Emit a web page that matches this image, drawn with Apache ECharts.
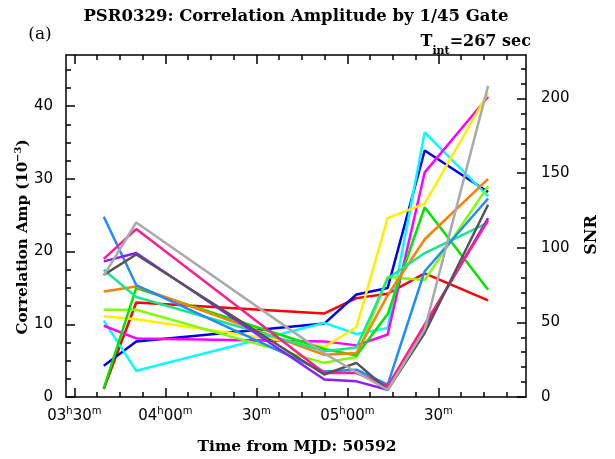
<!DOCTYPE html>
<html><head><meta charset="utf-8">
<script src="https://cdn.jsdelivr.net/npm/echarts@6/dist/echarts.min.js"></script>
<style>html,body{margin:0;padding:0;background:#fff}#c{width:615px;height:459px}</style>
</head><body><div id="c"></div>
<script>
// time in minutes after 03h00m (MJD 50592)
const times = [39.7, 50.4, 112.4, 123.0, 133.3, 145.5, 166.4];
// correlation amplitude (10^-3) per gate
const dodgerBlue  = [24.8, 15.4, 3.5, 3.75, 1.7, 17.3, 27.3];
const deepPink    = [19.0, 23.1, 3.3, 3.3, 1.5, 10.0, 24.3];
const purple      = [18.65, 19.8, 2.4, 2.15, 1.0, 9.7, 24.6];
const darkGray    = [16.8, 19.6, 3.1, 4.7, 1.0, 8.8, 26.45];
const lightGray   = [16.7, 24.0, 6.0, 3.4, 1.0, 9.3, 42.8];
const springGreen = [17.5, 13.75, 6.3, 6.8, 16.3, 19.8, 24.0];
const orange      = [14.5, 15.2, 5.8, 6.05, 14.0, 21.7, 30.0];
const red         = [1.1, 13.0, 11.5, 13.6, 14.2, 17.0, 13.3];
const green       = [1.2, 15.0, 6.6, 5.7, 11.4, 26.1, 14.75];
const chartreuse  = [12.0, 12.0, 4.7, 5.5, 16.5, 16.1, 29.0];
const yellow      = [11.1, 10.7, 6.9, 9.6, 24.6, 26.6, 41.8];
const magenta     = [9.8, 8.06, 7.65, 7.1, 8.6, 30.9, 41.3];
const cyan        = [10.5, 3.6, 10.2, 8.67, 9.5, 36.4, 27.6];
const darkBlue    = [4.3, 7.65, 10.1, 14.1, 15.0, 33.9, 28.2];

const xMajor = [30, 60, 90, 120, 150];
const xMinor = [37.5, 45, 52.5, 67.5, 75, 82.5, 97.5, 105, 112.5, 127.5, 135, 142.5, 157.5, 165, 172.5];
const xLabels = {30: ['03', '30'], 60: ['04', '00'], 90: [null, '30'], 120: ['05', '00'], 150: [null, '30']};
const yLeftMajor = [0, 10, 20, 30, 40];
const yLeftMinor = [2.5, 5, 7.5, 12.5, 15, 17.5, 22.5, 25, 27.5, 32.5, 35, 37.5, 42.5, 45];
const yRightMajor = [0, 50, 100, 150, 200];
const yRightMinor = [10, 20, 30, 40, 60, 70, 80, 90, 110, 120, 130, 140, 160, 170, 180, 190, 210, 220];

const X_MIN = 27.25, X_MAX = 178.9, Y_MAX = 47.04, SNR_MAX = 229.2;

const seriesDefs = [
  ['red', red, '#ff0000'],
  ['darkBlue', darkBlue, '#0000ee'],
  ['cyan', cyan, '#00ffff'],
  ['magenta', magenta, '#ff00ff'],
  ['yellow', yellow, '#ffee00'],
  ['chartreuse', chartreuse, '#80ff00'],
  ['green', green, '#00e600'],
  ['orange', orange, '#ff8000'],
  ['springGreen', springGreen, '#19e68c'],
  ['dodgerBlue', dodgerBlue, '#1e8cff'],
  ['purple', purple, '#8c1eff'],
  ['deepPink', deepPink, '#ff1e8c'],
  ['darkGray', darkGray, '#555555'],
  ['lightGray', lightGray, '#aaaaaa']
];

const black = '#000';
const tickFont = 'DejaVu Sans';
const serif = 'DejaVu Serif';

function xAxisDef(pos, major, labels) {
  return {
    type: 'value', min: X_MIN, max: X_MAX, position: pos,
    axisLine: {show: major, onZero: false, lineStyle: {color: black, width: 1.5}},
    axisTick: {show: true, inside: true, length: major ? 9 : 5, customValues: major ? xMajor : xMinor,
      lineStyle: {color: black, width: 1.5}},
    axisLabel: labels ? {
      show: true, customValues: xMajor, margin: 9, color: black,
      formatter: function (v) {
        const l = xLabels[Math.round(v)];
        if (!l) return '';
        return (l[0] ? '{n|' + l[0] + '}{s|h}' : '') + '{n|' + l[1] + '}{s|m}';
      },
      rich: {
        n: {fontFamily: tickFont, fontSize: 15, color: black, lineHeight: 18, verticalAlign: 'bottom'},
        s: {fontFamily: tickFont, fontSize: 10, color: black, lineHeight: 18, verticalAlign: 'top'}
      }
    } : {show: false},
    splitLine: {show: false}
  };
}

function yAxisDef(pos, min, max, major, ticks, labels) {
  return {
    type: 'value', min: min, max: max, position: pos,
    axisLine: {show: major, onZero: false, lineStyle: {color: black, width: 1.5}},
    axisTick: {show: true, inside: true, length: major ? 9 : 5, customValues: ticks,
      lineStyle: {color: black, width: 1.5}},
    axisLabel: labels ? {show: true, customValues: ticks, margin: pos === 'left' ? 13 : 15,
      color: black, fontFamily: tickFont, fontSize: 15} : {show: false},
    splitLine: {show: false}
  };
}

const chart = echarts.init(document.getElementById('c'), null, {renderer: 'canvas'});
chart.setOption({
  backgroundColor: '#fff',
  animation: false,
  grid: {left: 66, top: 55, width: 460, height: 342},
  xAxis: [
    xAxisDef('bottom', true, true),
    xAxisDef('bottom', false, false),
    xAxisDef('top', true, false),
    xAxisDef('top', false, false)
  ],
  yAxis: [
    yAxisDef('left', 0, Y_MAX, true, yLeftMajor, true),
    yAxisDef('left', 0, Y_MAX, false, yLeftMinor, false),
    yAxisDef('right', 0, SNR_MAX, true, yRightMajor, true),
    yAxisDef('right', 0, SNR_MAX, false, yRightMinor, false)
  ],
  series: seriesDefs.map(function (d) {
    return {
      name: d[0], type: 'line', xAxisIndex: 0, yAxisIndex: 0,
      data: times.map(function (t, i) { return [t, d[1][i]]; }),
      showSymbol: false, symbol: 'none',
      lineStyle: {color: d[2], width: 2.5},
      itemStyle: {color: d[2]}
    };
  }),
  graphic: [
    {type: 'text', x: 296, y: 17, style: {text: 'PSR0329: Correlation Amplitude by 1/45 Gate',
      align: 'center', verticalAlign: 'middle',
      fontFamily: serif, fontWeight: 'bold', fontSize: 16.5, fill: black}},
    {type: 'text', x: 40, y: 35, style: {text: '(a)', align: 'center', verticalAlign: 'middle',
      fontFamily: serif, fontSize: 17, fill: black}},
    {type: 'text', x: 531, y: 51, style: {
      text: '{t|T}{sub|int}{t|=267 sec}', align: 'right', verticalAlign: 'bottom',
      rich: {
        t: {fontFamily: serif, fontWeight: 'bold', fontSize: 16, fill: black, lineHeight: 17, verticalAlign: 'top'},
        sub: {fontFamily: serif, fontWeight: 'bold', fontSize: 11, fill: black, lineHeight: 17, verticalAlign: 'bottom', padding: [0, 0, -6, 0]}
      }}},
    {type: 'text', x: 22, y: 237, rotation: Math.PI / 2, style: {
      text: '{t|Correlation Amp (10}{sup|−3}{t|)}', align: 'center', verticalAlign: 'middle',
      rich: {
        t: {fontFamily: serif, fontWeight: 'bold', fontSize: 15, fill: black, lineHeight: 18, verticalAlign: 'bottom'},
        sup: {fontFamily: serif, fontWeight: 'bold', fontSize: 10, fill: black, lineHeight: 18, verticalAlign: 'top'}
      }}},
    {type: 'text', x: 592, y: 235, rotation: Math.PI / 2, style: {
      text: 'SNR', align: 'center', verticalAlign: 'middle',
      fontFamily: serif, fontWeight: 'bold', fontSize: 16, fill: black}},
    {type: 'text', x: 297, y: 447, style: {
      text: 'Time from MJD: 50592', align: 'center', verticalAlign: 'middle',
      fontFamily: serif, fontWeight: 'bold', fontSize: 15.5, fill: black}}
  ]
});
</script>
</body></html>
